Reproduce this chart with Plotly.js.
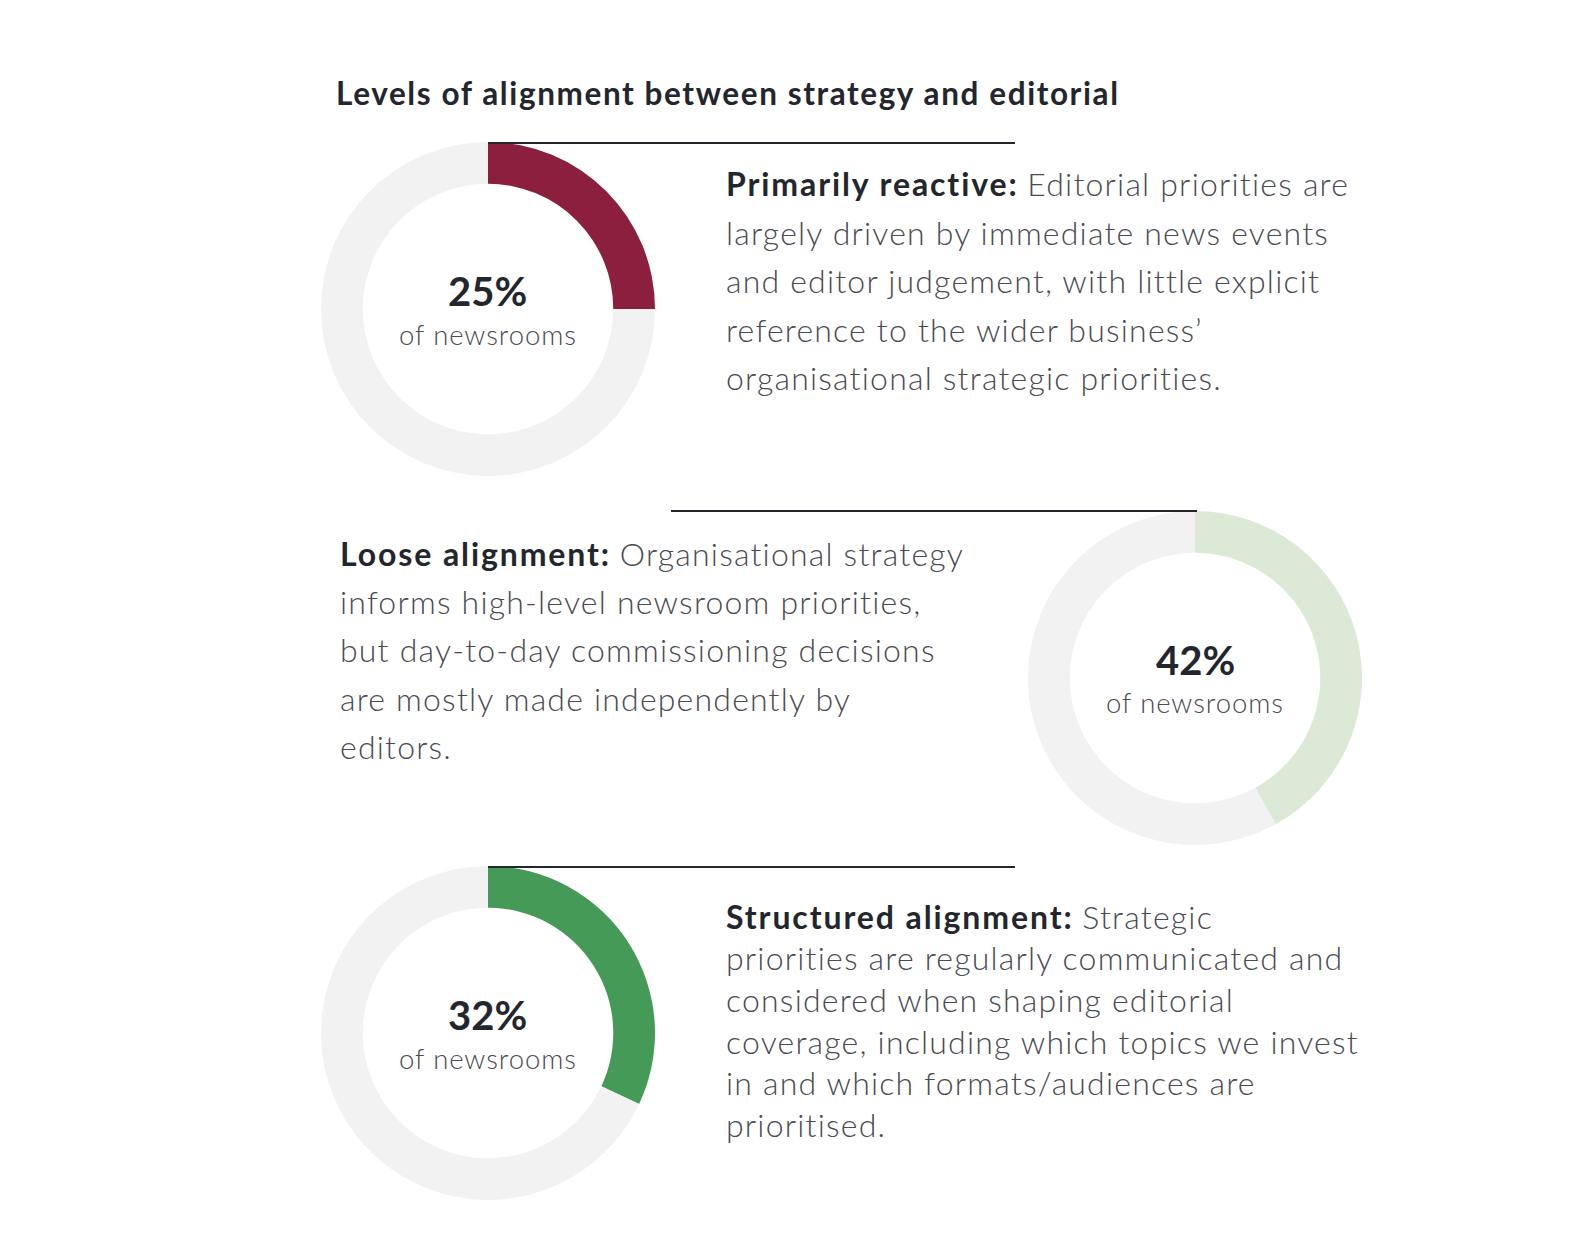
<!DOCTYPE html>
<html>
<head>
<meta charset="utf-8">
<script src="https://cdn.plot.ly/plotly-3.0.1.min.js"></script>
<style>html,body{margin:0;padding:0;background:#fff;}#chart{width:1580px;height:1254px;}</style>
</head>
<body>
<div id="chart"></div>
<script>
// ---- data ----
const chartTitle = "Levels of alignment between strategy and editorial";
const categories = ["Primarily reactive", "Loose alignment", "Structured alignment"];
const shares = [25, 42, 32];
const centerLabel = "of newsrooms";
const descLines = [
  ["Editorial priorities are",
   "largely driven by immediate news events",
   "and editor judgement, with little explicit",
   "reference to the wider business\u2019",
   "organisational strategic priorities."],
  ["Organisational strategy",
   "informs high-level newsroom priorities,",
   "but day-to-day commissioning decisions",
   "are mostly made independently by",
   "editors."],
  ["Strategic",
   "priorities are regularly communicated and",
   "considered when shaping editorial",
   "coverage, including which topics we invest",
   "in and which formats/audiences are",
   "prioritised."]
];

// ---- styling / layout ----
const W = 1580, H = 1254;
const colors = ["#8c1f3e", "#dce9d6", "#469a58"];
const restColor = "#f2f2f2";
const centers = [[488, 309], [1195, 678], [488, 1033]];
const R = 167;
const lines = [[488, 1015, 143], [671, 1197, 511], [488, 1015, 867]];
const textX = [724, 338, 724];
const textY0 = [184, 553, 916];
const textStep = [48.4, 48.4, 41.7];
const px = x => x / W;
const py = y => 1 - y / H;
const FONT = "Lato, 'Open Sans', sans-serif";
const dark = "#23262d";
const body = "#4a4a52";
const sp = (s, t) => "<span style='letter-spacing:" + s + "px'>" + t + "</span>";
const spb = (s, c, t) => "<span style='letter-spacing:" + s + "px;font-weight:700;fill:" + c + "'>" + t + "</span>";

const data = [];
const annotations = [];
const shapes = [];

categories.forEach((cat, i) => {
  const [cx, cy] = centers[i];
  data.push({
    type: "pie",
    values: [shares[i], 100 - shares[i]],
    labels: [cat, "Other"],
    hole: 0.75,
    sort: false,
    direction: "clockwise",
    rotation: 0,
    textinfo: "none",
    hoverinfo: "none",
    showlegend: false,
    marker: { colors: [colors[i], restColor], line: { width: 0 } },
    domain: { x: [px(cx - R), px(cx + R)], y: [py(cy + R), py(cy - R)] }
  });
  annotations.push({
    xref: "paper", yref: "paper", x: px(cx), y: py(cy - 18),
    xanchor: "center", yanchor: "middle", showarrow: false,
    text: shares[i] + "%",
    font: { family: FONT, size: 40, color: dark, weight: 700 }
  });
  annotations.push({
    xref: "paper", yref: "paper", x: px(cx), y: py(cy + 25),
    xanchor: "center", yanchor: "middle", showarrow: false,
    text: sp(0.9, centerLabel),
    font: { family: FONT, size: 27.5, color: "#4a4a52", weight: 300 }
  });
  const [x0, x1, ly] = lines[i];
  shapes.push({
    type: "line", xref: "paper", yref: "paper",
    x0: px(x0), x1: px(x1), y0: py(ly), y1: py(ly),
    line: { color: dark, width: 2 }
  });
  descLines[i].forEach((ln, j) => {
    const txt = j === 0
      ? spb(1.9, dark, cat + ":") + " " + sp(1.2, ln)
      : sp(1.2, ln);
    annotations.push({
      xref: "paper", yref: "paper", x: px(textX[i]), y: py(textY0[i] + j * textStep[i]),
      xanchor: "left", yanchor: "middle", showarrow: false,
      text: txt,
      font: { family: FONT, size: 32, color: body, weight: 300 }
    });
  });
});

annotations.push({
  xref: "paper", yref: "paper", x: px(334), y: py(93),
  xanchor: "left", yanchor: "middle", showarrow: false,
  text: sp(1.6, chartTitle),
  font: { family: FONT, size: 31.5, color: dark, weight: 700 }
});

const layout = {
  width: W, height: H,
  margin: { l: 0, r: 0, t: 0, b: 0 },
  paper_bgcolor: "#fff",
  plot_bgcolor: "#fff",
  annotations: annotations,
  shapes: shapes,
  showlegend: false
};

Plotly.newPlot("chart", data, layout, { displayModeBar: false, staticPlot: true });
</script>
</body>
</html>
